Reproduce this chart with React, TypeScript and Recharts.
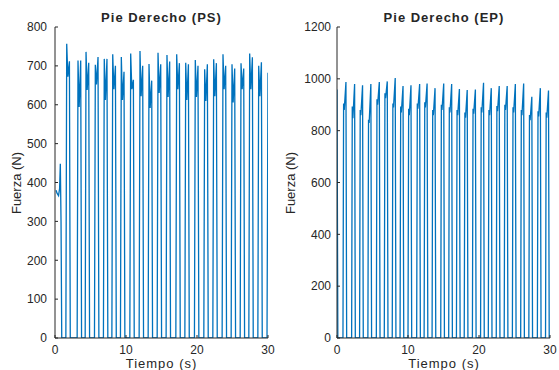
import React from 'react';
import { LineChart, Line, XAxis, YAxis } from 'recharts';

// ---- axis ticks ----
const xTicks = [0, 10, 20, 30];
const psYTicks = [0, 100, 200, 300, 400, 500, 600, 700, 800];
const epYTicks = [0, 200, 400, 600, 800, 1000, 1200];

// ---- Pie Derecho (PS): readings per step ----
const psLeadTime = [0.15, 0.3, 0.5, 0.65, 0.75, 0.85, 0.95];
const psLeadForce = [380, 372, 366, 385, 448, 300, 0];
const psPeakTime = [1.65, 3.24, 4.37, 5.68, 6.94, 8.13, 9.34, 10.66, 11.97, 13.24, 14.51, 15.77, 17.14, 18.41, 19.76, 21.08, 22.35, 23.66, 24.93, 26.2, 27.42, 28.69];
const psPeak1 = [757, 714, 736, 703, 718, 730, 723, 732, 738, 705, 734, 728, 730, 708, 715, 691, 717, 730, 704, 707, 732, 700];
const psValley = [672, 594, 638, 652, 612, 640, 612, 640, 622, 592, 630, 620, 640, 612, 620, 610, 622, 640, 606, 640, 640, 622];
const psPeak2 = [712, 714, 708, 723, 718, 700, 685, 664, 700, 662, 704, 711, 707, 704, 700, 704, 707, 700, 693, 693, 722, 709];
const psTailTime = [29.86, 30];
const psTailForce = [0, 682];

// ---- Pie Derecho (EP): readings per step ----
const epLeadTime = [0, 0.12];
const epLeadForce = [959, 0];
const epPeakTime = [1.26, 2.48, 3.6, 4.77, 5.96, 7.08, 8.2, 9.3, 10.42, 11.64, 12.69, 13.81, 15.03, 16.15, 17.24, 18.34, 19.49, 20.64, 21.73, 22.85, 23.97, 25.12, 26.29, 27.44, 28.64, 29.79];
const epPeak = [988, 980, 975, 980, 988, 990, 1003, 972, 975, 980, 982, 964, 982, 980, 961, 957, 959, 985, 964, 972, 972, 980, 982, 931, 964, 955];
const epShoulder = [905, 893, 880, 842, 921, 944, 905, 893, 885, 905, 910, 880, 900, 890, 880, 870, 885, 890, 880, 895, 900, 890, 880, 860, 875, 870];
const epDip = [880, 848, 860, 830, 900, 925, 890, 870, 860, 885, 890, 860, 880, 870, 860, 850, 865, 870, 860, 875, 880, 870, 860, 840, 855, 850];

type Pt = { t: number; f: number };

function buildPS(): Pt[] {
  const pts: Pt[] = psLeadTime.map((t, i) => ({ t, f: psLeadForce[i] }));
  psPeakTime.forEach((p, i) => {
    pts.push(
      { t: p - 0.12, f: 0 },
      { t: p, f: psPeak1[i] },
      { t: p + 0.16, f: psValley[i] },
      { t: p + 0.38, f: psPeak2[i] },
      { t: p + 0.5, f: 0 }
    );
  });
  psTailTime.forEach((t, i) => pts.push({ t, f: psTailForce[i] }));
  return pts;
}

function buildEP(): Pt[] {
  const pts: Pt[] = epLeadTime.map((t, i) => ({ t, f: epLeadForce[i] }));
  epPeakTime.forEach((p, i) => {
    pts.push(
      { t: p - 0.42, f: 0 },
      { t: p - 0.33, f: epShoulder[i] },
      { t: p - 0.24, f: epDip[i] },
      { t: p, f: epPeak[i] },
      { t: p + 0.1, f: 0 }
    );
  });
  return pts;
}

const psData = buildPS();
const epData = buildEP();

const AX = '#262626';
const FONT = '"Liberation Sans", Arial, Helvetica, sans-serif';
const tickStyle = { fontSize: 12, fill: AX, fontFamily: FONT };

function Panel({ data, yMax, yTicks, yWidth, rightMargin, yTickMargin }: { data: Pt[]; yMax: number; yTicks: number[]; yWidth: number; rightMargin: number; yTickMargin: number }) {
  return (
    <LineChart width={yWidth + 213 + rightMargin} height={370} data={data} margin={{ top: 27, right: rightMargin, bottom: 0, left: 0 }}>
      <XAxis dataKey="t" type="number" domain={[0, 30]} ticks={xTicks} height={32} tickSize={-3} tickMargin={10}
        axisLine={{ stroke: AX }} tickLine={{ stroke: AX }} tick={tickStyle} allowDataOverflow />
      <XAxis xAxisId="top" orientation="top" dataKey="t" type="number" domain={[0, 30]} ticks={xTicks} height={0} tickSize={-3}
        axisLine={{ stroke: AX }} tickLine={{ stroke: AX }} tick={false} allowDataOverflow />
      <YAxis type="number" domain={[0, yMax]} ticks={yTicks} width={yWidth} tickSize={-3} tickMargin={yTickMargin}
        axisLine={{ stroke: AX }} tickLine={{ stroke: AX }} tick={tickStyle} allowDataOverflow interval={0} />
      <YAxis yAxisId="right" orientation="right" type="number" domain={[0, yMax]} ticks={yTicks} width={0} tickSize={-3}
        axisLine={{ stroke: AX }} tickLine={{ stroke: AX }} tick={false} allowDataOverflow />
      <Line dataKey="f" type="linear" stroke="#0072BD" strokeWidth={1.3} dot={false} isAnimationActive={false} />
    </LineChart>
  );
}

export default function App() {
  return (
    <div style={{ position: 'absolute', left: 0, top: 0, width: 559, height: 370, background: '#fff', overflow: 'hidden' }}>
      <div style={{ position: 'absolute', left: 0, top: 0 }}>
        <Panel data={psData} yMax={800} yTicks={psYTicks} yWidth={55} rightMargin={12} yTickMargin={11} />
      </div>
      <div style={{ position: 'absolute', left: 280, top: 0 }}>
        <Panel data={epData} yMax={1200} yTicks={epYTicks} yWidth={57} rightMargin={8} yTickMargin={9} />
      </div>
      <svg width={559} height={370} style={{ position: 'absolute', left: 0, top: 0, pointerEvents: 'none' }}>
        <g fontFamily={FONT} fill={AX}>
          <text x={161.5} y={21.5} textAnchor="middle" fontSize={13} fontWeight="bold" letterSpacing={1}>Pie Derecho (PS)</text>
          <text x={444} y={21.5} textAnchor="middle" fontSize={13} fontWeight="bold" letterSpacing={1}>Pie Derecho (EP)</text>
          <text x={161.5} y={368} textAnchor="middle" fontSize={13} letterSpacing={1}>Tiempo (s)</text>
          <text x={444} y={368} textAnchor="middle" fontSize={13} letterSpacing={1}>Tiempo (s)</text>
          <text x={21} y={183} textAnchor="middle" fontSize={13} transform="rotate(-90 21 183)">Fuerza (N)</text>
          <text x={295} y={183} textAnchor="middle" fontSize={13} transform="rotate(-90 295 183)">Fuerza (N)</text>
        </g>
      </svg>
    </div>
  );
}
